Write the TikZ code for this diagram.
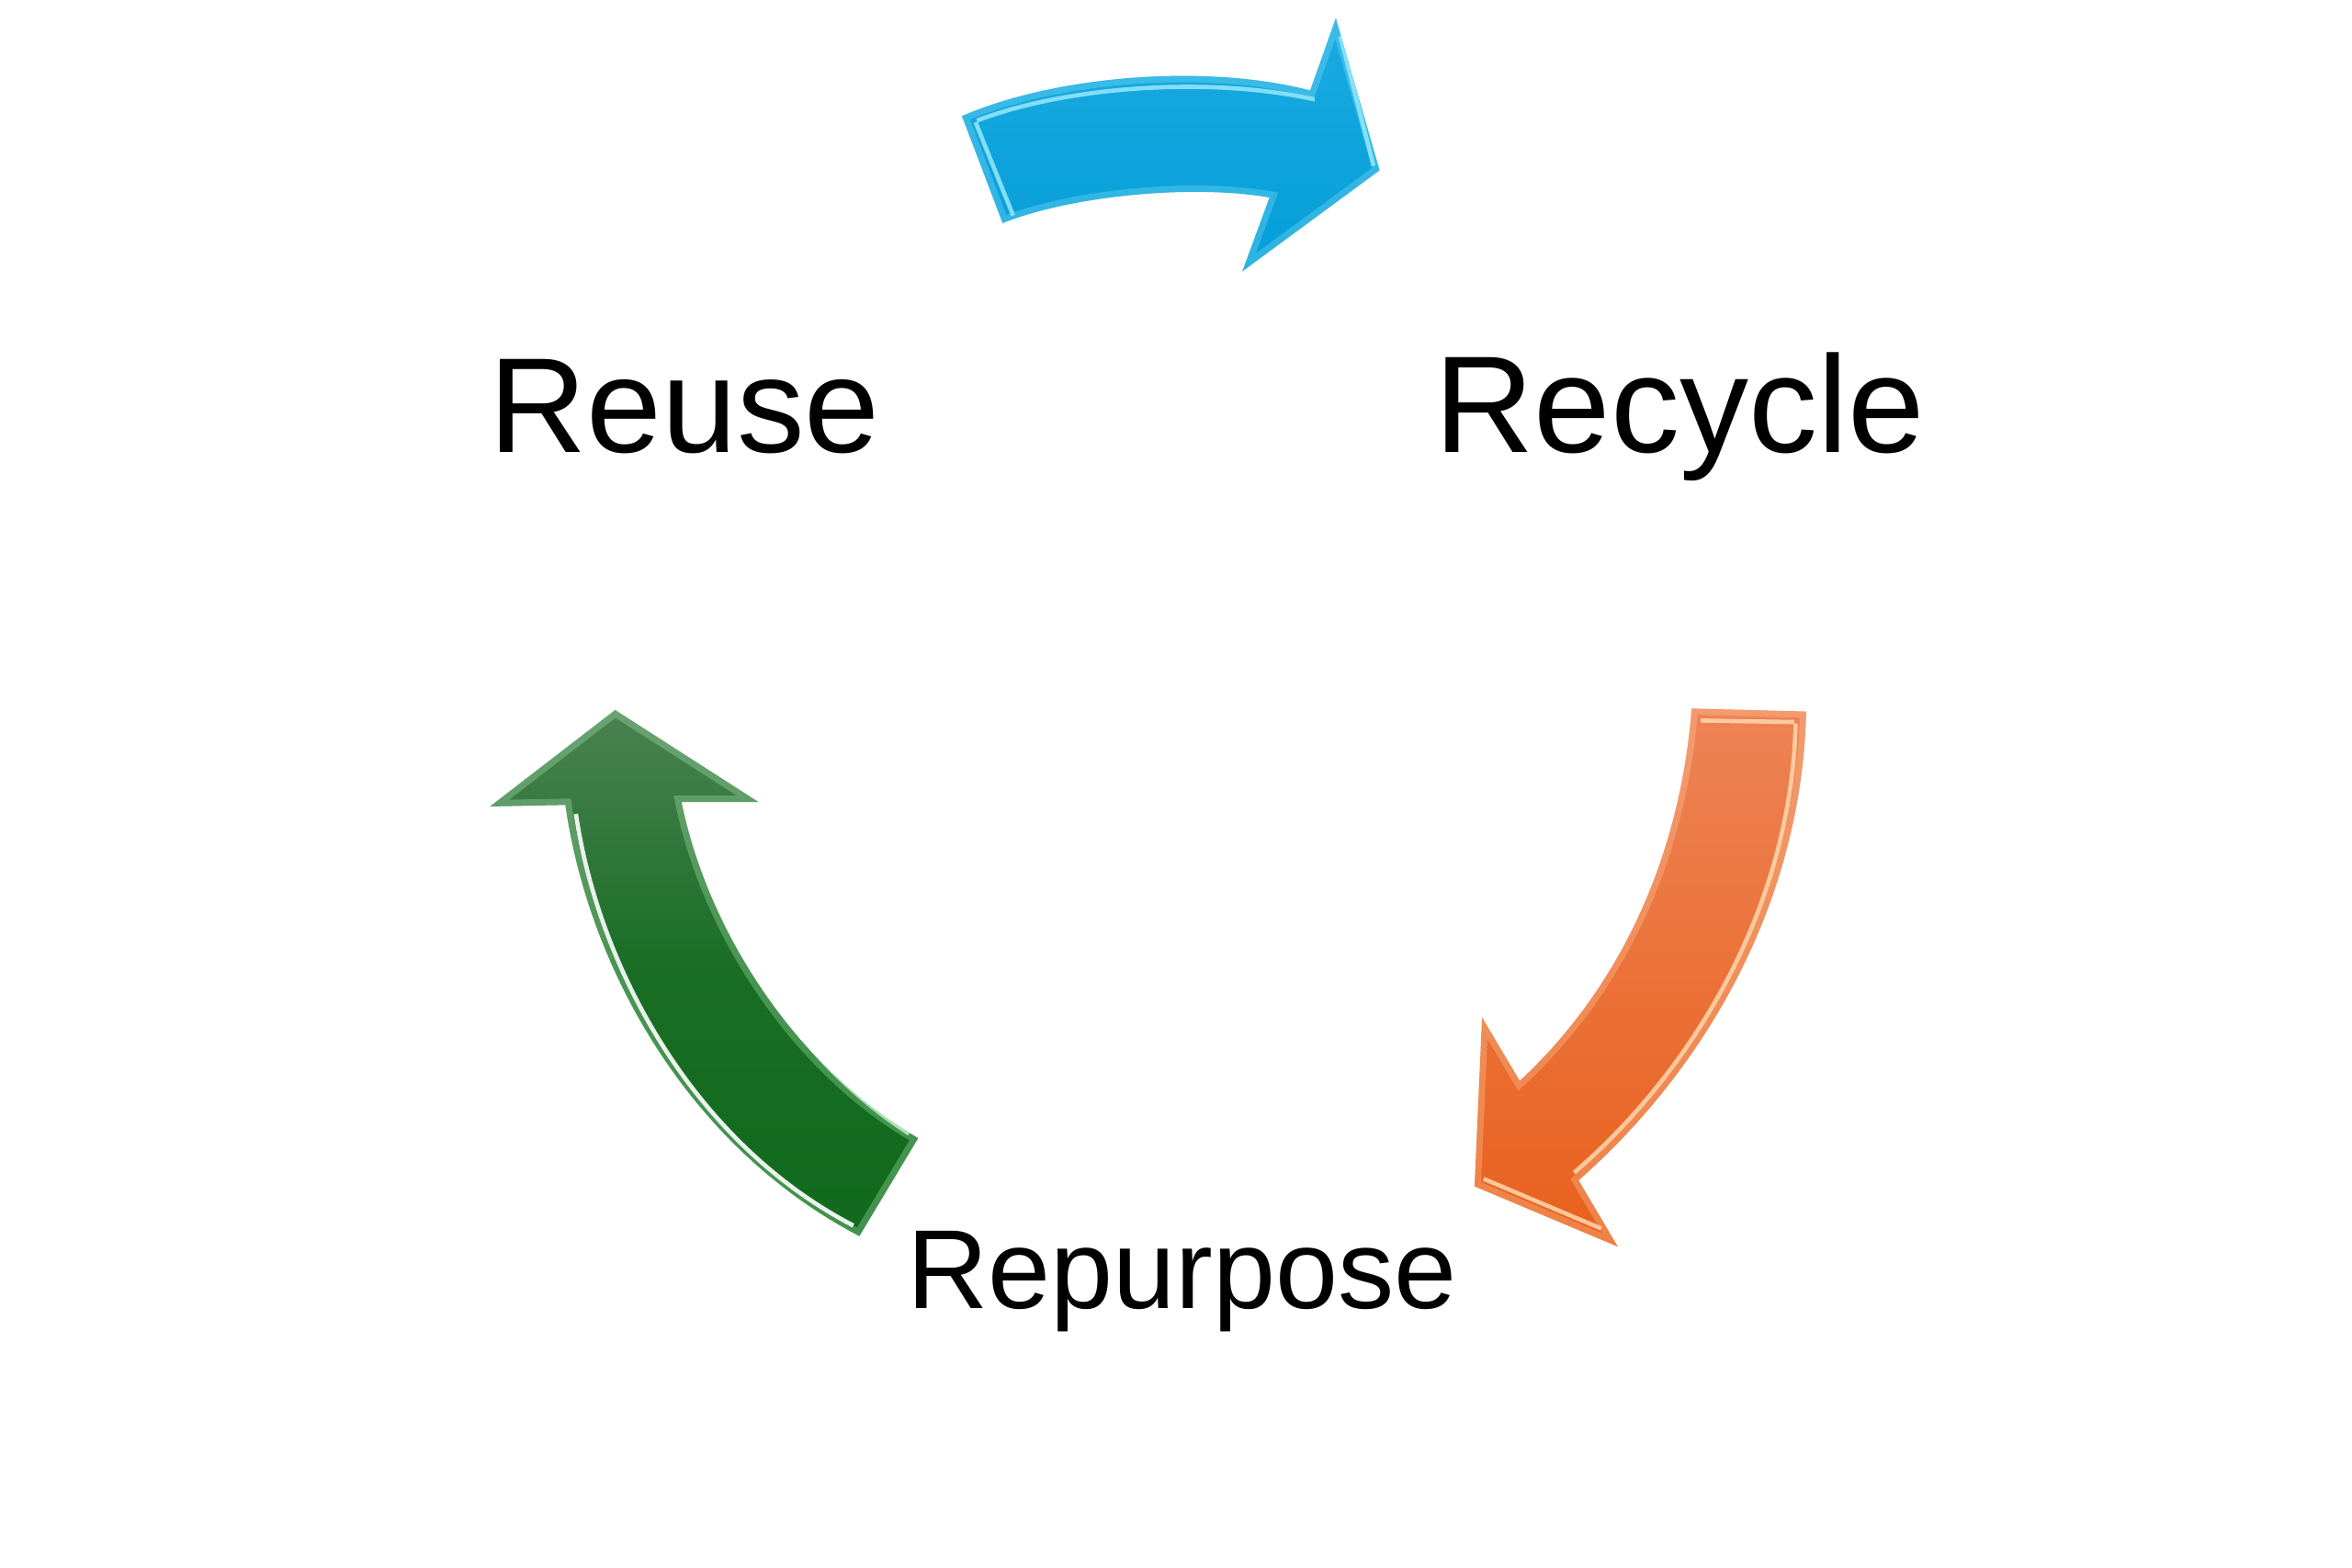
\documentclass[tikz,border=0pt]{standalone}
\usepackage{fontspec}
\setmainfont{Liberation Sans}
\definecolor{blueT}{HTML}{1BAAE2}
\definecolor{blueB}{HTML}{049ED8}
\definecolor{blueL}{HTML}{8FE6FA}
\definecolor{greenT}{HTML}{4A8252}
\definecolor{greenB}{HTML}{106A1C}
\definecolor{greenL}{HTML}{B8F0C0}
\definecolor{orangeT}{HTML}{EE8355}
\definecolor{orangeB}{HTML}{E8601C}
\definecolor{orangeL}{HTML}{FFD2A8}
\begin{document}
\begin{tikzpicture}[x=0.01cm,y=-0.01cm,
  lbl/.style={inner sep=0pt, anchor=base, text=black},
  bevel/.style={line width=2.4pt, opacity=0.3},
  bevelthin/.style={line width=0.8pt, opacity=0.9}]
\useasboundingbox (0,0) rectangle (1560,1039.6);
\fill[white] (0,0) rectangle (1560,1039.6);

% blue arrow (Reuse -> Recycle)
\def\bluepath{(638,77) .. controls (700,50) and (800,42) .. (869,60) -- (886,12) -- (915,113) -- (824,180) -- (842,131) .. controls (790,122) and (710,130) .. (665,148) -- cycle}
\begin{scope}
  \clip \bluepath;
  \shade[top color=blueT, bottom color=blueB] \bluepath;
  \draw[blueL, bevel] \bluepath;
  \draw[blueL, bevelthin] (648,80) .. controls (705,58) and (800,50) .. (872,66);
  \draw[blueL, bevelthin] (647,81) -- (672,143);
  \draw[blueL, bevelthin] (889,24) -- (911,110);
\end{scope}

% orange arrow (Recycle -> Repurpose)
\def\orangepath{(1122,470) -- (1198,472) .. controls (1195,600) and (1130,710) .. (1047,783) -- (1073,827) -- (978,787) -- (983,675) -- (1008,717) .. controls (1080,650) and (1115,560) .. (1122,470) -- cycle}
\begin{scope}
  \clip \orangepath;
  \shade[top color=orangeT, bottom color=orangeB] \orangepath;
  \draw[orangeL, bevel] \orangepath;
  \draw[orangeL, bevelthin] (1128,478) -- (1190,479);
  \draw[orangeL, bevelthin] (1191,480) .. controls (1188,600) and (1125,708) .. (1044,778);
  \draw[orangeL, bevelthin] (984,782) -- (1062,815);
\end{scope}

% green arrow (Repurpose -> Reuse)
\def\greenpath{(609,755) .. controls (530,710) and (470,620) .. (452,532) -- (503,532) -- (408,471) -- (325,535) -- (375,534) .. controls (390,640) and (455,760) .. (570,820) -- cycle}
\begin{scope}
  \clip \greenpath;
  \shade[top color=greenT, bottom color=greenB, middle color=greenB!85!greenT] \greenpath;
  \draw[greenL, bevel] \greenpath;
  \draw[white, bevelthin] (382,540) .. controls (397,642) and (460,758) .. (566,813);
  \draw[greenL, bevelthin] (458,538) .. controls (476,622) and (530,705) .. (603,752);
\end{scope}

% labels
\node[lbl, font=\fontsize{25.5}{30}\selectfont] (reuse) at (454,300) {Reuse};
\node[lbl, font=\fontsize{26}{30}\selectfont] (recycle) at (1114,300) {Recycle};
\node[lbl, font=\fontsize{21.2}{25}\selectfont] (repurpose) at (784,868) {Repurpose};
\end{tikzpicture}
\end{document}
